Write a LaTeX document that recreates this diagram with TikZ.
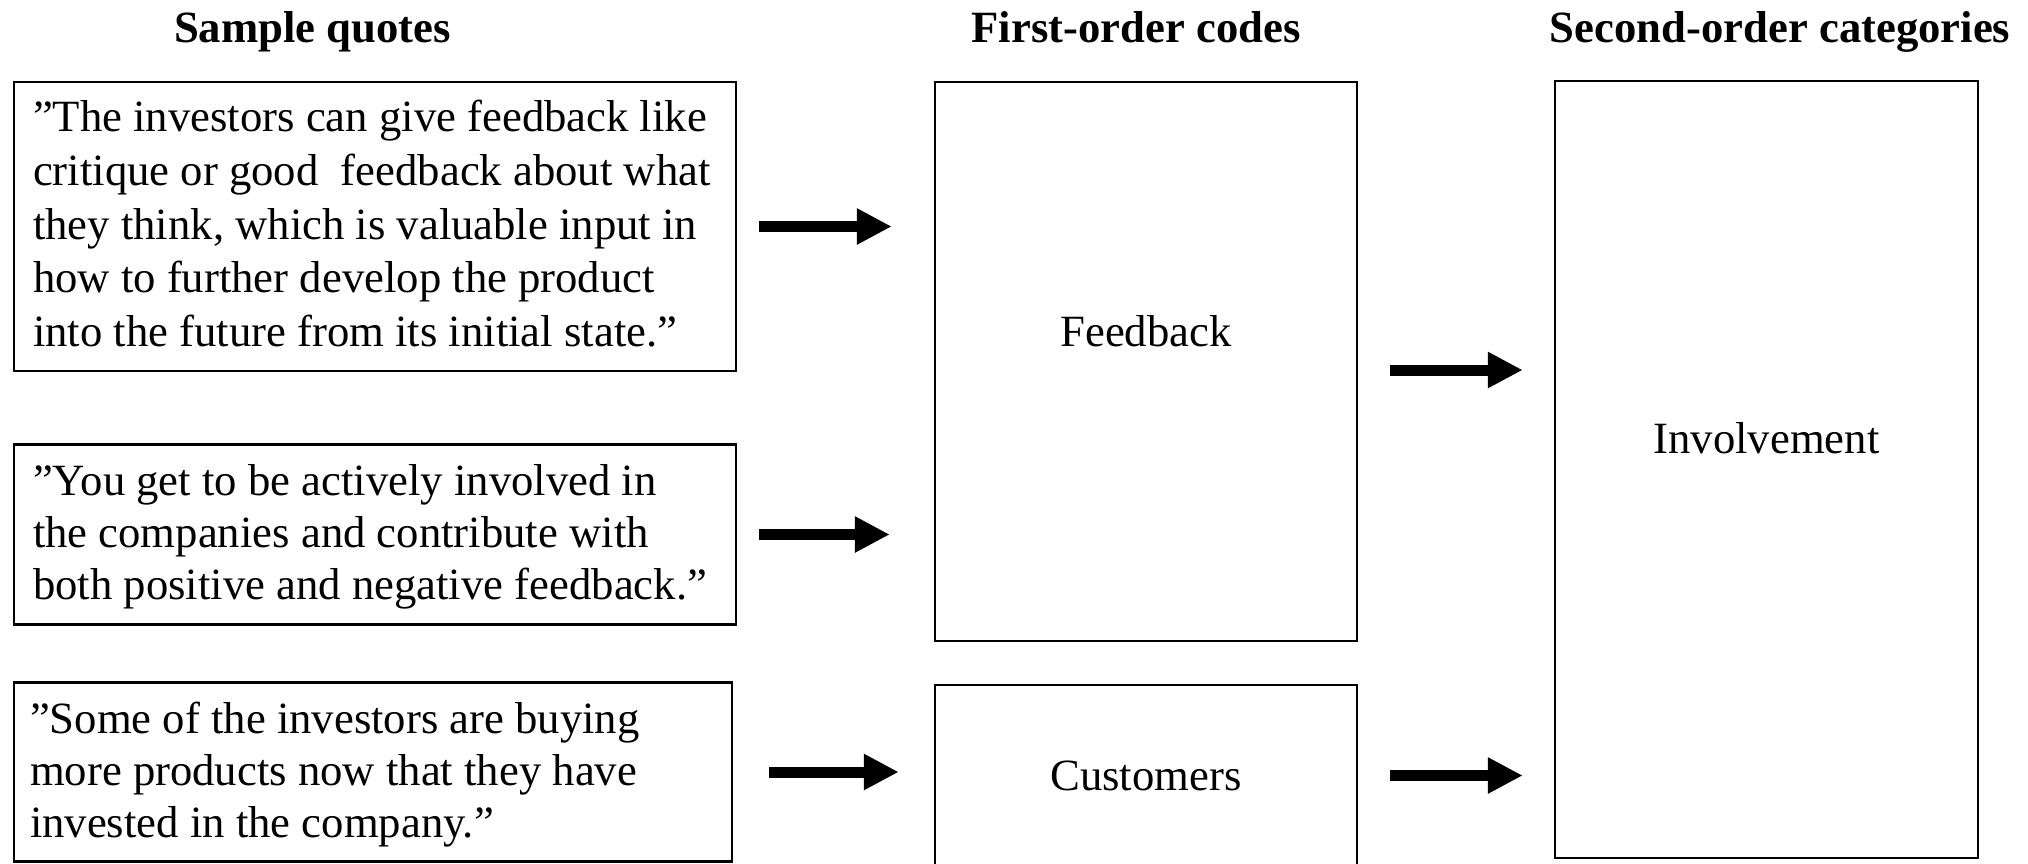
\documentclass[tikz,border=0pt]{standalone}
\usepackage{fontspec}
\setmainfont{Liberation Serif}
\usetikzlibrary{arrows.meta}
\newcommand\bodysize{\fontsize{22.35pt}{26pt}\selectfont}
\tikzset{
	head/.style={anchor=base, font=\bodysize\bfseries},
	quotebox/.style 2 args={draw, line width=1.25pt, align=left, inner xsep=9.5pt, inner ysep=0pt, text height=#1, text depth=#2,
		execute at begin node={\spaceskip=0pt\xspaceskip=0pt}},
	codebox/.style 2 args={draw, line width=1.25pt, minimum width=211pt, inner ysep=0pt, text height=#1, text depth=#2},
	bigarrow/.style={-{Triangle[length=17.5pt,width=17pt]}, line width=5.5pt}
}
\begin{document}
\begin{tikzpicture}[x=.5pt, y=-.5pt, font=\bodysize]
		\useasboundingbox (0,0) rectangle (2028,863);
		\node[head] (hquotes) at (312.5,42) {Sample quotes};
		\node[head] (hcodes) at (1136,42) {First-order codes};
		\node[head] (hcats) at (1780,42) {Second-order categories};
		
		\node[quotebox={24.85pt}{119.65pt}, text width=342pt, font=\fontsize{22.35pt}{26.875pt}\selectfont] (q1) at (375,226.5) {”The investors can give feedback like\\ critique or good\ \ feedback about what\\ they think, which is valuable input in\\ how to further develop the product\\ into the future from its initial state.”};
		\node[quotebox={25.25pt}{64.75pt}, text width=342pt] (q2) at (375,534.5) {”You get to be actively involved in\\ the companies and contribute with\\ both positive and negative feedback.”};
		\node[quotebox={25.25pt}{64.25pt}, text width=343pt, inner xsep=8pt] (q3) at (373,772) {”Some of the investors are buying\\ more products now that they have\\ invested in the company.”};
		
		\node[codebox={132.35pt}{147.15pt}] (fb) at (1146,361.5) {Feedback};
		\node[codebox={52.5pt}{38pt}] (cu) at (1146,775.5) {Customers};
		\node[codebox={186.35pt}{202.15pt}, minimum width=211.5pt] (inv) at (1766.5,469.5) {Involvement};
		
		\draw[bigarrow, shorten <=11pt, shorten >=21pt] (q1.east) -- (q1.east -| fb.west);
		\draw[bigarrow, shorten <=11pt, shorten >=22pt] (q2.east) -- (q2.east -| fb.west);
		\draw[bigarrow, shorten <=18pt, shorten >=17.5pt] (q3.east) -- (q3.east -| cu.west);
		\coordinate (fbout) at ([yshift=-4.25pt]fb.east);
		\draw[bigarrow, shorten <=16pt, shorten >=15.5pt] (fbout) -- (fbout -| inv.west);
		\draw[bigarrow, shorten <=16pt, shorten >=15.5pt] (cu.east) -- (cu.east -| inv.west);
\end{tikzpicture}
\end{document}
